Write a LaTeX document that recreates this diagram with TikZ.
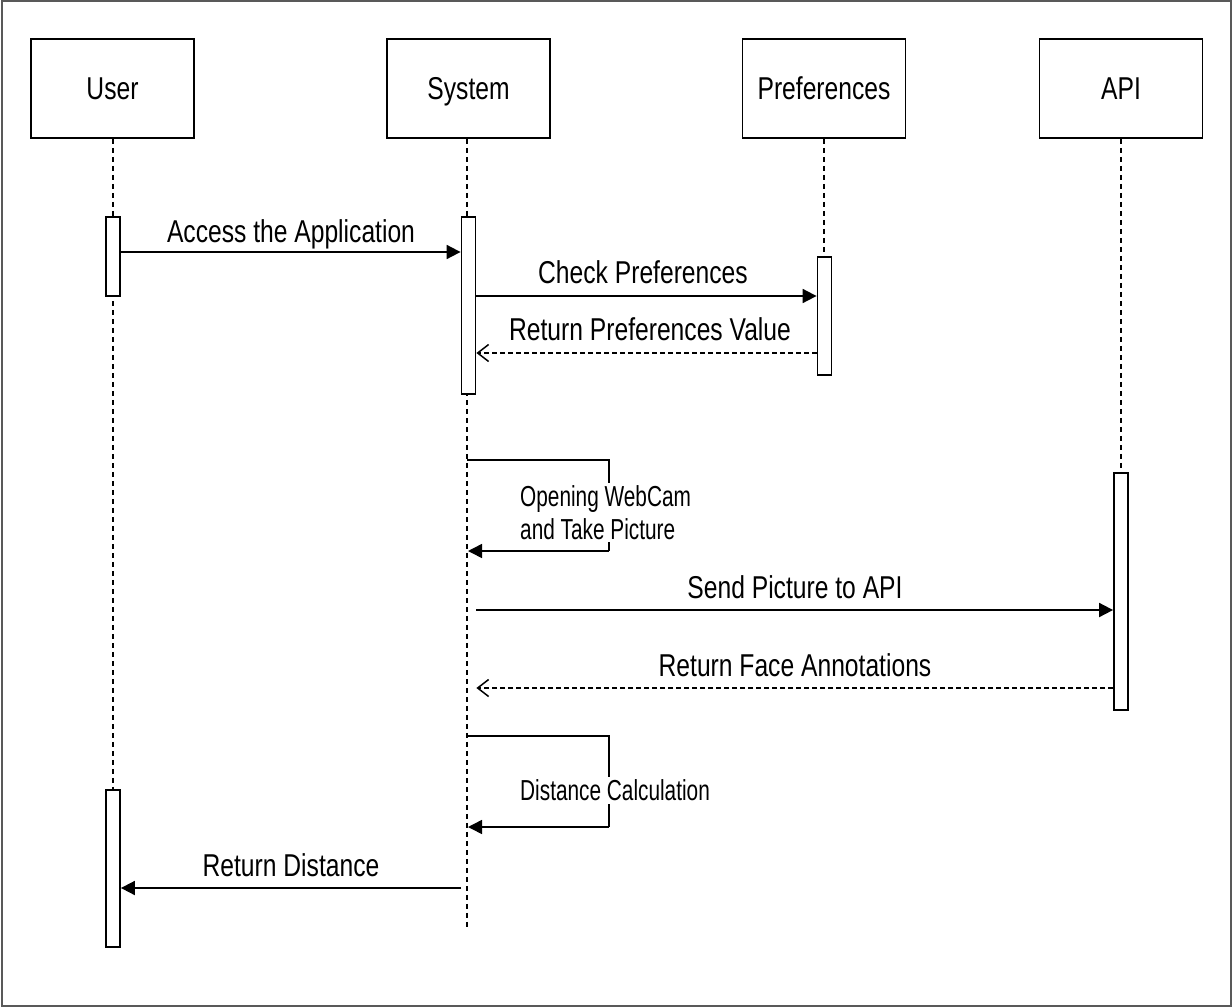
\documentclass[tikz,border=0pt]{standalone}
\usepackage{fontspec}
\usetikzlibrary{arrows.meta}
\newfontfamily\lblfont{Liberation Sans}[FakeStretch=0.78]
\newfontfamily\notefont{Liberation Sans}[FakeStretch=0.72]
\newcommand{\bigtxt}{\lblfont\fontsize{31.6}{38}\selectfont}
\newcommand{\smalltxt}{\notefont\fontsize{28.9}{32.3}\selectfont}

\tikzset{
  participant/.style={draw, line width=1.8pt, minimum width=163pt, minimum height=99pt,
    inner sep=0pt, font=\bigtxt, fill=white, text height=27pt, text depth=5.4pt},
  activation/.style={draw, line width=1.8pt, fill=white, minimum width=14pt, inner sep=0pt},
  lifeline/.style={line width=1.4pt, dash pattern=on 5pt off 4pt},
  callmsg/.style={line width=1.8pt, -{Triangle[length=14pt,width=14pt]}},
  retmsg/.style={line width=1.5pt, dash pattern=on 5pt off 3pt,
    -{Straight Barb[length=11pt,width=17pt,line width=1.5pt]}},
  msglabel/.style={anchor=base, font=\bigtxt, inner sep=0pt},
  notelabel/.style={anchor=base west, font=\smalltxt, fill=white, inner xsep=0pt,
    inner ysep=3pt, align=left}
}

\begin{document}
\begin{tikzpicture}[x=1pt, y=-1pt]
  \useasboundingbox (0,0) rectangle (1232,1007);
  % outer frame
  \draw[line width=2pt, gray!70!black] (1.5,1) rectangle (1230.5,1005.5);

  % participants
  \node[participant] (user) at (112.5,88.5) {User};
  \node[participant] (sys)  at (468.5,88.5) {System};
  \node[participant] (pref) at (824,88.5) {Preferences};
  \node[participant] (api)  at (1121,88.5) {API};

  % lifeline ends
  \coordinate (userEnd) at (113,790);
  \coordinate (sysEnd)  at (467,928);
  \coordinate (prefEnd) at (824,257);
  \coordinate (apiEnd)  at (1121,473);

  \draw[lifeline] (user.south -| userEnd) -- (userEnd);
  \draw[lifeline] (sys.south -| sysEnd) -- (sysEnd);
  \draw[lifeline] (pref.south -| prefEnd) -- (prefEnd);
  \draw[lifeline] (api.south -| apiEnd) -- (apiEnd);

  % activation bars
  \node[activation, minimum height=79pt]  (uact1) at (113,256.5) {};
  \node[activation, minimum height=157pt] (uact2) at (113,868.5) {};
  \node[activation, minimum height=177pt] (sact)  at (468.5,305.5) {};
  \node[activation, minimum height=118pt] (pact)  at (824.5,316) {};
  \node[activation, minimum height=237pt] (aact)  at (1121,591.5) {};

  % messages
  \draw[callmsg] (uact1.east |- 0,252) -- (sact.west |- 0,252);
  \node[msglabel] (m1) at (291,242) {Access the Application};

  \draw[callmsg] (sact.east |- 0,296) -- (pact.west |- 0,296);
  \node[msglabel] (m2) at (643,283) {Check Preferences};

  \draw[retmsg] (pact.west |- 0,353) -- (sact.east |- 0,353);
  \node[msglabel] (m3) at (650,340.5) {Return Preferences Value};

  % self call: webcam
  \coordinate (w1) at (467,460);
  \coordinate (w2) at (609,460);
  \coordinate (w3) at (609,551);
  \coordinate (w4) at (468,551);
  \draw[line width=1.5pt] (w1) -- (w2) -- (w3);
  \draw[callmsg, line width=1.5pt] (w3) -- (w4);
  \node[notelabel] (m4) at (520,539) {Opening WebCam\\and Take Picture};

  \draw[callmsg] (sact.east |- 0,610) -- (aact.west |- 0,610);
  \node[msglabel] (m5) at (795,598) {Send Picture to API};

  \draw[retmsg] (aact.west |- 0,688) -- (sact.east |- 0,688);
  \node[msglabel] (m6) at (795,676.5) {Return Face Annotations};

  % self call: distance
  \coordinate (d1) at (467,736);
  \coordinate (d2) at (609,736);
  \coordinate (d3) at (609,827);
  \coordinate (d4) at (468,827);
  \draw[line width=1.5pt] (d1) -- (d2) -- (d3);
  \draw[callmsg, line width=1.5pt] (d3) -- (d4);
  \node[notelabel] (m7) at (520,800.5) {Distance Calculation};

  \coordinate (rdStart) at (461,888);
  \draw[callmsg] (rdStart) -- (uact2.east |- rdStart);
  \node[msglabel] (m8) at (291,876.5) {Return Distance};
\end{tikzpicture}
\end{document}
